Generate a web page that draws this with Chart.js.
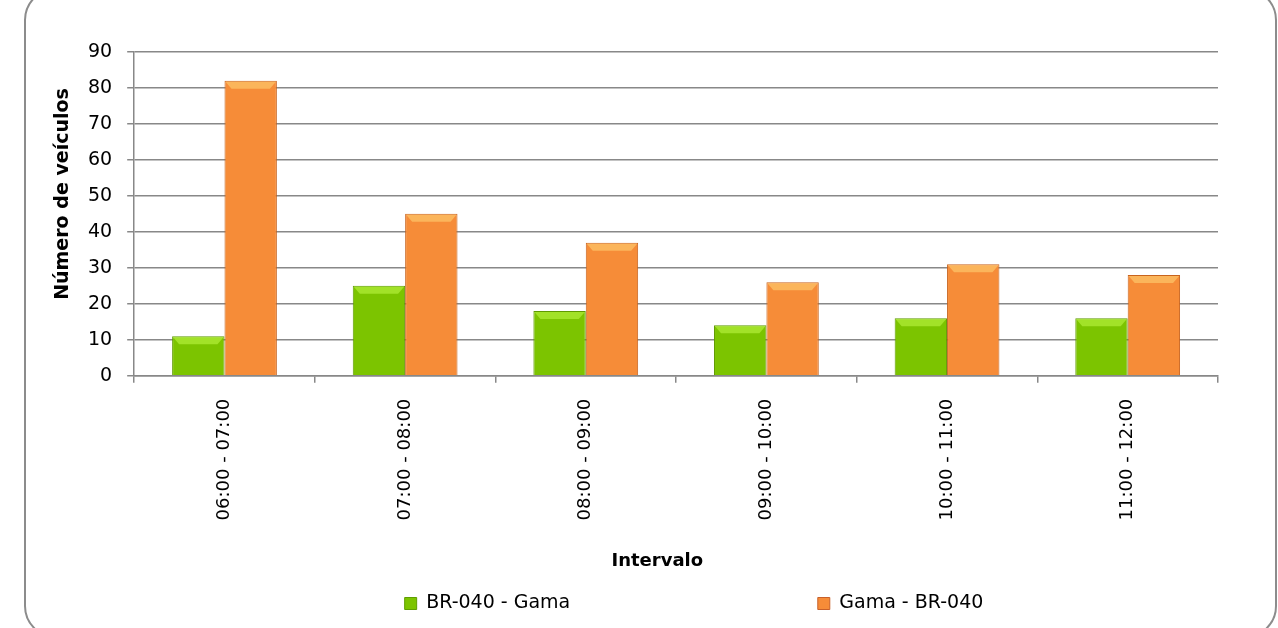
<!DOCTYPE html>
<html>
<head>
<meta charset="utf-8">
<script src="https://cdn.jsdelivr.net/npm/chart.js@4.4.0/dist/chart.umd.min.js"></script>
<style>
  html, body { margin: 0; padding: 0; background: #fff; overflow: hidden; }
  #wrap { position: relative; width: 1278px; height: 628px; }
  #frame { position: absolute; left: 24px; top: -12px; width: 1253px; height: 650px;
           border: 2px solid #8c8c8c; border-radius: 32px; box-sizing: border-box; }
  canvas { position: absolute; left: 0; top: 0; }
</style>
</head>
<body>
<div id="wrap">
  <div id="frame"></div>
  <canvas id="intervalChart" width="1278" height="628"></canvas>
</div>
<script>
var intervals = ['06:00 - 07:00', '07:00 - 08:00', '08:00 - 09:00', '09:00 - 10:00', '10:00 - 11:00', '11:00 - 12:00'];
var br040Gama = [11, 25, 18, 14, 16, 16];
var gamaBr040 = [82, 45, 37, 26, 31, 28];
var yTicks = [0, 10, 20, 30, 40, 50, 60, 70, 80, 90];

Chart.defaults.font.family = '"DejaVu Sans", sans-serif';
Chart.defaults.color = '#000';

// horizontal bevel gradient for each bar
function barGradient(ctx, stops) {
    var chart = ctx.chart;
    var el = ctx.element;
    if (!chart.chartArea || !el || el.width === undefined) return stops[1];
    var half = el.width / 2;
    var g = chart.ctx.createLinearGradient(el.x - half, 0, el.x + half, 0);
    g.addColorStop(0, stops[0]);
    g.addColorStop(0.1, stops[1]);
    g.addColorStop(0.88, stops[1]);
    g.addColorStop(1, stops[2]);
    return g;
}

// legend sits a bit right of the plot centre, like the original
var legendShift = {
    id: 'legendShift',
    afterLayout: function(chart) {
        chart.legend.left += 60;
        chart.legend.right += 60;
    }
};

// light bevel along the top of every bar
var barTops = {
    id: 'barTops',
    afterDatasetsDraw: function(chart) {
        var c = chart.ctx;
        var tops = ['rgba(200,255,80,0.5)', 'rgba(255,215,120,0.55)'];
        chart.data.datasets.forEach(function(ds, i) {
            chart.getDatasetMeta(i).data.forEach(function(bar) {
                var half = bar.width / 2;
                c.save();
                c.fillStyle = tops[i];
                c.beginPath();
                c.moveTo(bar.x - half + 1, bar.y + 1);
                c.lineTo(bar.x + half - 1, bar.y + 1);
                c.lineTo(bar.x + half - 7, bar.y + 8);
                c.lineTo(bar.x - half + 7, bar.y + 8);
                c.closePath();
                c.fill();
                c.restore();
            });
        });
    }
};

var ctx = document.getElementById('intervalChart').getContext('2d');
var intervalChart = new Chart(ctx, {
    type: 'bar',
    data: {
        labels: intervals,
        datasets: [{
            label: 'BR-040 - Gama',
            data: br040Gama,
            backgroundColor: function(c) { return barGradient(c, ['#5f9e00', '#7cc400', '#5a9600']); },
            borderColor: '#5f9a00',
            borderWidth: 1
        }, {
            label: 'Gama - BR-040',
            data: gamaBr040,
            backgroundColor: function(c) { return barGradient(c, ['#d9682a', '#f68c38', '#b8581f']); },
            borderColor: '#c8641e',
            borderWidth: 1
        }]
    },
    plugins: [legendShift, barTops],
    options: {
        responsive: false,
        animation: false,
        layout: { padding: { left: 50, right: 60, top: 52, bottom: 5 } },
        datasets: { bar: { categoryPercentage: 0.58, barPercentage: 1 } },
        scales: {
            x: {
                grid: { offset: true, drawOnChartArea: false, drawTicks: true, tickLength: 7, color: '#888', lineWidth: 1.5 },
                border: { color: '#888', width: 1.5 },
                ticks: { maxRotation: 90, minRotation: 90, padding: 16, font: { size: 18 } },
                title: { display: true, text: 'Intervalo' + '\u00a0'.repeat(6), font: { size: 18, weight: 'bold' }, padding: { top: 14, bottom: 16 } }
            },
            y: {
                min: 0,
                max: 90,
                afterBuildTicks: function(axis) { axis.ticks = yTicks.map(function(v) { return { value: v }; }); },
                grid: { color: '#888', lineWidth: 1.5, tickLength: 7 },
                border: { color: '#888', width: 1.5 },
                ticks: { padding: 15, font: { size: 19 } },
                title: { display: true, text: '\u00a0'.repeat(6) + 'Número de veículos', font: { size: 19, weight: 'bold', lineHeight: 1 }, padding: { top: 4, bottom: 0 } }
            }
        },
        plugins: {
            legend: {
                position: 'bottom',
                labels: {
                    boxWidth: 12,
                    boxHeight: 12,
                    padding: 6,
                    font: { size: 19 },
                    generateLabels: function(chart) {
                        var items = Chart.defaults.plugins.legend.labels.generateLabels(chart);
                        items[0].fillStyle = '#7cc400';
                        items[0].strokeStyle = '#5f9e00';
                        items[1].fillStyle = '#f68c38';
                        items[1].strokeStyle = '#c8602a';
                        items[0].text = items[0].text + '\u00a0'.repeat(40);
                        return items;
                    }
                }
            },
            tooltip: { enabled: false }
        }
    }
});
</script>
</body>
</html>
